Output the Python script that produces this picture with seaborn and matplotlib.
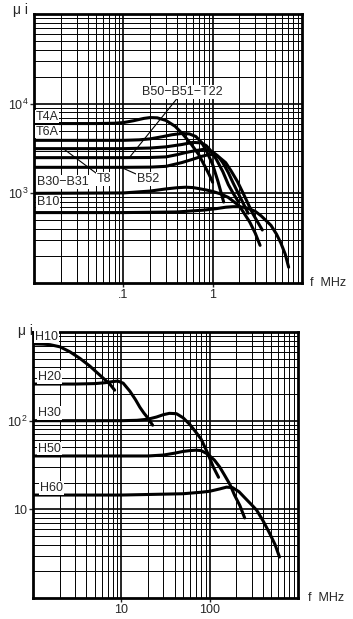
import matplotlib
matplotlib.use("Agg")
import matplotlib.pyplot as plt
import matplotlib.ticker as mticker
import seaborn as sns

# ---- upper chart: B / T ferrites (f in MHz, initial permeability) ----
t4a_f = [0.01, 0.05, 0.08, 0.1, 0.13, 0.17, 0.2, 0.24, 0.3, 0.38, 0.47, 0.58, 0.7, 0.82, 0.92, 1.0]
t4a_mu = [6000, 6000, 6050, 6150, 6450, 6850, 7000, 6950, 6500, 5600, 4500, 3500, 2700, 2000, 1600, 1330]

t6a_f = [0.01, 0.1, 0.15, 0.2, 0.28, 0.35, 0.45, 0.55, 0.65, 0.75, 0.85, 1.0, 1.15, 1.33]
t6a_mu = [3900, 3900, 3950, 4050, 4300, 4500, 4650, 4600, 4300, 3700, 3000, 2100, 1350, 800]

t8_f = [0.01, 0.1, 0.2, 0.3, 0.45, 0.6, 0.75, 0.85, 0.95, 1.1, 1.3, 1.5, 1.7, 1.95]
t8_mu = [3150, 3150, 3200, 3300, 3500, 3700, 3650, 3400, 3000, 2400, 1750, 1250, 1000, 800]

b50_f = [0.01, 0.1, 0.2, 0.3, 0.4, 0.5, 0.65, 0.8, 1.0, 1.15, 1.3, 1.5, 1.7, 2.1, 2.5]
b50_mu = [2500, 2500, 2510, 2550, 2700, 2850, 3000, 3100, 2900, 2600, 2200, 1700, 1300, 850, 600]

b52_f = [0.01, 0.1, 0.2, 0.3, 0.45, 0.6, 0.75, 0.9, 1.05, 1.2, 1.4, 1.6, 1.9, 2.2, 2.8, 3.6]
b52_mu = [1950, 1950, 1960, 2000, 2200, 2400, 2580, 2700, 2700, 2500, 2200, 1800, 1350, 1000, 600, 390]

b30_f = [0.01, 0.1, 0.2, 0.3, 0.4, 0.5, 0.6, 0.7, 0.85, 1.0, 1.25, 1.5, 2.0, 2.6, 3.0, 3.4]
b30_mu = [1000, 1010, 1060, 1120, 1155, 1170, 1160, 1130, 1090, 1050, 980, 900, 720, 480, 360, 263]

b10_f = [0.01, 0.1, 0.4, 0.8, 1.1, 1.4, 1.7, 1.9, 2.2, 2.5, 3.0, 3.5, 4.5, 5.2, 5.8, 6.5, 7.1]
b10_mu = [610, 610, 620, 650, 675, 700, 710, 710, 700, 680, 630, 560, 440, 350, 280, 210, 150]

# ---- lower chart: H ferrites ----
h10_f = [1.0, 1.3, 1.56, 2.02, 2.62, 3.4, 4.4, 5.7, 7.4, 8.4]
h10_mu = [735, 730, 720, 681, 598, 504, 413, 327, 259, 221]

h20_f = [1.0, 3.0, 5.0, 6.5, 8.0, 9.1, 10.5, 12.5, 14.5, 16.2, 18.0, 20.0, 22.6]
h20_mu = [259, 259, 262, 268, 276, 280, 265, 215, 172, 142, 122, 107, 89]

h30_f = [1.0, 10, 15, 20, 25, 30, 35, 42, 50, 60, 70, 80, 95, 110, 126]
h30_mu = [100, 100, 101, 104, 110, 117, 121, 120, 108, 90, 74, 62, 43, 30, 23]

h50_f = [1.0, 10, 20, 30, 40, 50, 60, 70, 80, 95, 113, 130, 147, 170, 191, 220, 249]
h50_mu = [40, 40, 40, 41, 43, 45, 46, 46.5, 46, 42, 36, 30, 24.4, 19, 14.5, 11, 8.0]

h60_f = [1.0, 10, 50, 80, 100, 130, 155, 181, 215, 250, 300, 340, 400, 476, 550, 617]
h60_mu = [14.5, 14.5, 15, 15.6, 16, 17, 17.8, 17.6, 15.8, 13.5, 11.2, 9.8, 7.5, 5.4, 4.0, 2.9]

top_series = [(t4a_f, t4a_mu), (t6a_f, t6a_mu), (t8_f, t8_mu), (b50_f, b50_mu),
              (b52_f, b52_mu), (b30_f, b30_mu), (b10_f, b10_mu)]
bottom_series = [(h10_f, h10_mu), (h20_f, h20_mu), (h30_f, h30_mu),
                 (h50_f, h50_mu), (h60_f, h60_mu)]

sns.set_style("white")
plt.rcParams['font.family'] = ['Liberation Sans', 'DejaVu Sans']
plt.rcParams['mathtext.fontset'] = 'custom'
plt.rcParams['mathtext.rm'] = 'Liberation Sans'

fig = plt.figure(figsize=(3.53, 6.19), dpi=100)
ax1 = fig.add_axes([0.0963, 0.5428, 0.759, 0.4346])
ax2 = fig.add_axes([0.0935, 0.0339, 0.7507, 0.4297])


def setup_log_grid(ax, xlim, ylim, xticks, xlabels, yticks, ylabels):
    ax.set_xscale('log')
    ax.set_yscale('log')
    ax.set_xlim(*xlim)
    ax.set_ylim(*ylim)
    ax.xaxis.set_minor_locator(mticker.LogLocator(base=10, subs=range(2, 10), numticks=20))
    ax.yaxis.set_minor_locator(mticker.LogLocator(base=10, subs=range(2, 10), numticks=20))
    ax.grid(True, which='major', color='black', lw=1.2)
    ax.grid(True, which='minor', color='black', lw=0.7)
    ax.set_xticks(xticks)
    ax.set_xticklabels(xlabels)
    ax.set_yticks(yticks)
    ax.set_yticklabels(ylabels)
    ax.xaxis.set_minor_formatter(mticker.NullFormatter())
    ax.yaxis.set_minor_formatter(mticker.NullFormatter())
    ax.tick_params(which='minor', length=0)
    ax.tick_params(which='major', length=3, width=1, pad=1, labelsize=9,
                   direction='out', left=True, bottom=True)
    for sp in ax.spines.values():
        sp.set_linewidth(2)
        sp.set_color('black')
    ax.set_xlabel('')
    ax.set_ylabel('')


for f, mu in top_series:
    sns.lineplot(x=f, y=mu, ax=ax1, color='black', lw=2.2, sort=False, estimator=None)
for f, mu in bottom_series:
    sns.lineplot(x=f, y=mu, ax=ax2, color='black', lw=2.2, sort=False, estimator=None)

setup_log_grid(ax1, (0.01, 10), (100, 1e5), [0.1, 1], ['.1', '1'],
               [1e3, 1e4], [r'$\mathregular{10^3}$', r'$\mathregular{10^4}$'])
setup_log_grid(ax2, (1, 1000), (1, 1000), [10, 100], ['10', '100'],
               [10, 100], ['10', r'$\mathregular{10^2}$'])

box = dict(facecolor='white', edgecolor='none', pad=0.6)
lab = dict(fontsize=9, ha='left', va='bottom', bbox=box, zorder=5)
leader = dict(arrowstyle='-', lw=0.8, color='black', shrinkA=0, shrinkB=0)

# curve labels, upper chart
ax1.text(0.0104, 6150, 'T4A', **lab)
ax1.text(0.0104, 4190, 'T6A', **lab)
ax1.text(0.0108, 1140, 'B30\u2212B31', **lab)
ax1.text(0.0108, 682, 'B10', **lab)
ax1.annotate('T8', xy=(0.0212, 3160), xytext=(0.051, 1228), arrowprops=leader, **lab)
ax1.annotate('B52', xy=(0.1, 1900), xytext=(0.142, 1228), arrowprops=leader, **lab)
ax1.annotate('B50\u2212B51\u2212T22', xy=(0.117, 2510), xytext=(0.163, 11660),
             arrowprops=leader, **lab)

# curve labels, lower chart
ax2.text(1.05, 760, 'H10', **lab)
ax2.text(1.14, 268, 'H20', **lab)
ax2.text(1.14, 105, 'H30', **lab)
ax2.text(1.14, 41.5, 'H50', **lab)
ax2.text(1.2, 15, 'H60', **lab)

# axis captions
fig.text(0.037, 0.9725, '\u03bc i', fontsize=10, ha='left', va='bottom')
fig.text(0.051, 0.454, '\u03bc i', fontsize=10, ha='left', va='bottom')
fig.text(0.878, 0.543, 'f  MHz', fontsize=9, ha='left', va='center')
fig.text(0.873, 0.034, 'f  MHz', fontsize=9, ha='left', va='center')

fig.savefig('out.png', dpi=100)
